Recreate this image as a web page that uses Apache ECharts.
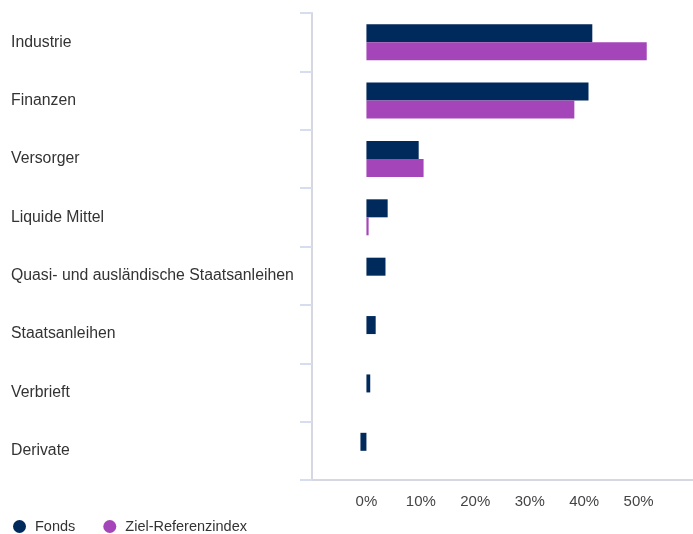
<!DOCTYPE html>
<html>
<head>
<meta charset="utf-8">
<script src="https://cdn.jsdelivr.net/npm/echarts@6/dist/echarts.min.js"></script>
<style>
  html, body { margin: 0; padding: 0; background: #fff; }
  #chart { width: 693px; height: 534px; }
</style>
</head>
<body>
<div id="chart"></div>
<script>
// Kategorien und Werte (in %)
var categories = ['Industrie', 'Finanzen', 'Versorger', 'Liquide Mittel',
  'Quasi- und ausländische Staatsanleihen', 'Staatsanleihen', 'Verbrieft', 'Derivate'];
var fonds = [41.5, 40.8, 9.6, 3.9, 3.5, 1.7, 0.7, -1.1];
var zielIndex = [51.5, 38.2, 10.5, 0.4, null, null, null, null];
var seriesNames = ['Fonds', 'Ziel-Referenzindex'];

var chart = echarts.init(document.getElementById('chart'));

var option = {
  animation: false,
  textStyle: { fontFamily: 'Liberation Sans, Arial, sans-serif' },
  grid: { left: 312, right: 0, top: 13, bottom: 54 },
  legend: {
    data: seriesNames,
    left: 13,
    top: 519,
    padding: 0,
    icon: 'circle',
    itemWidth: 13,
    itemHeight: 13,
    itemGap: 28,
    textStyle: { fontSize: 14.5, color: '#333', padding: [0, 0, 0, 4] }
  },
  xAxis: {
    type: 'value',
    min: -10,
    max: 60,
    interval: 10,
    splitLine: { show: false },
    axisLine: { show: true, lineStyle: { color: '#d5d8e0', width: 2 } },
    axisTick: { show: false },
    axisLabel: {
      fontSize: 15,
      color: '#444',
      margin: 14,
      showMinLabel: false,
      showMaxLabel: false,
      formatter: function (v) { return v + '%'; }
    }
  },
  yAxis: {
    type: 'category',
    data: categories,
    inverse: true,
    axisLine: { onZero: false, lineStyle: { color: '#d5d8e0', width: 2 } },
    axisTick: { show: true, length: 12, lineStyle: { color: '#d6ddee', width: 2 } },
    axisLabel: { align: 'left', margin: 301, fontSize: 15.8, color: '#333' }
  },
  series: [
    {
      name: seriesNames[0],
      type: 'bar',
      data: fonds,
      barWidth: 18,
      barGap: '0%',
      itemStyle: { color: '#00295c' }
    },
    {
      name: seriesNames[1],
      type: 'bar',
      data: zielIndex,
      barWidth: 18,
      barGap: '0%',
      itemStyle: { color: '#a446b9' }
    }
  ]
};

chart.setOption(option);
</script>
</body>
</html>
